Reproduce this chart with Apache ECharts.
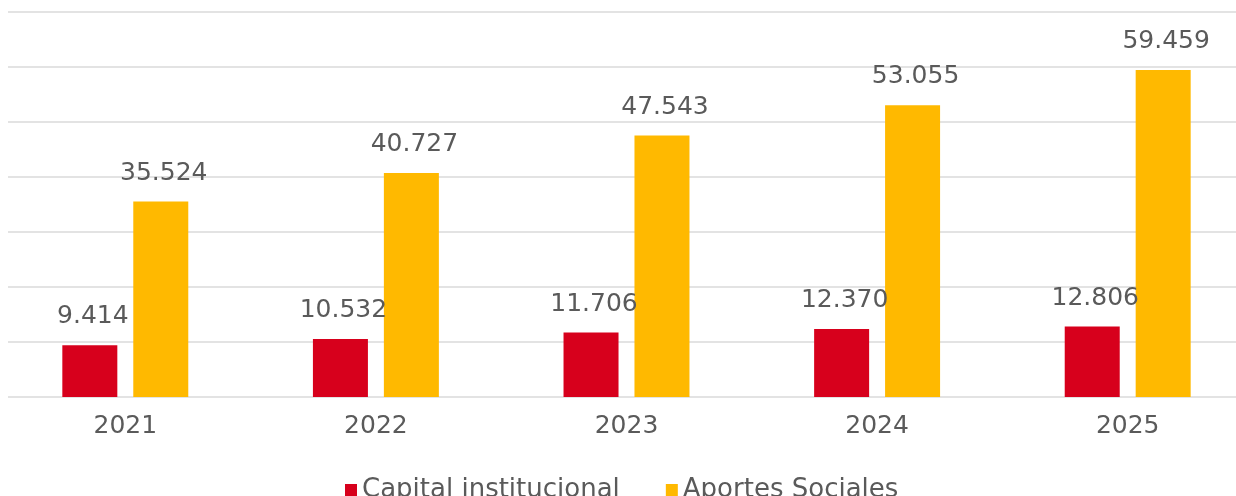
<!DOCTYPE html>
<html>
<head>
<meta charset="utf-8">
<style>
  html, body { margin: 0; padding: 0; background: #ffffff; }
  #chart { width: 1236px; height: 496px; }
</style>
<script src="https://cdn.jsdelivr.net/npm/echarts@6/dist/echarts.min.js"></script>
</head>
<body>
<div id="chart"></div>
<script>
// Years on the category axis
const years = ['2021', '2022', '2023', '2024', '2025'];
// Capital institucional per year
const capitalInstitucional = [9414, 10532, 11706, 12370, 12806];
// Aportes sociales per year
const aportesSociales = [35524, 40727, 47543, 53055, 59459];
// Value axis range
const yMin = 0;
const yMax = 70000;
const yStep = 10000;

const FONT = 'DejaVu Sans';
const TEXT = '#5a5a5a';

// Spanish thousands separator: 9414 -> "9.414"
function fmt(v) {
  return String(v).replace(/\B(?=(\d{3})+(?!\d))/g, '.');
}

const chart = echarts.init(document.getElementById('chart'), null, { renderer: 'canvas' });

const valueLabel = {
  show: true,
  position: 'top',
  distance: 16,
  color: TEXT,
  fontFamily: FONT,
  fontSize: 25,
  offset: [3, 0],
  formatter: p => fmt(p.value)
};

chart.setOption({
  animation: false,
  backgroundColor: '#ffffff',
  legend: {
    left: 340,
    top: 472,
    itemWidth: 12,
    itemHeight: 12,
    itemGap: 46,
    icon: 'rect',
    textStyle: { color: TEXT, fontFamily: FONT, fontSize: 26 },
    data: ['Capital institucional', 'Aportes Sociales']
  },
  grid: [
    // bar grid runs a little past the right edge so the last band is cut off
    { left: 0, right: -17, top: 12, bottom: 99, containLabel: false, outerBoundsMode: 'none' },
    // gridline grid
    { left: 8, right: 0, top: 12, bottom: 99, containLabel: false, outerBoundsMode: 'none' }
  ],
  xAxis: [
    {
      type: 'category',
      gridIndex: 0,
      data: years,
      axisLine: { show: false },
      axisTick: { show: false },
      axisLabel: { color: TEXT, fontFamily: FONT, fontSize: 25, margin: 17 }
    },
    {
      type: 'value',
      gridIndex: 1,
      show: false
    }
  ],
  yAxis: [
    {
      type: 'value',
      gridIndex: 0,
      min: yMin, max: yMax, interval: yStep,
      show: false,
      splitLine: { show: false }
    },
    {
      type: 'value',
      gridIndex: 1,
      min: yMin, max: yMax, interval: yStep,
      axisLine: { show: false },
      axisTick: { show: false },
      axisLabel: { show: false },
      splitLine: { show: true, lineStyle: { color: '#e3e3e3', width: 2 } }
    }
  ],
  series: [
    {
      name: 'Capital institucional',
      type: 'bar',
      xAxisIndex: 0, yAxisIndex: 0,
      data: capitalInstitucional,
      barWidth: 55,
      barGap: '29%',
      itemStyle: { color: '#d7001c' },
      label: valueLabel
    },
    {
      name: 'Aportes Sociales',
      type: 'bar',
      xAxisIndex: 0, yAxisIndex: 0,
      data: aportesSociales,
      barWidth: 55,
      barGap: '29%',
      itemStyle: { color: '#ffb900' },
      label: valueLabel
    }
  ]
});
</script>
</body>
</html>
